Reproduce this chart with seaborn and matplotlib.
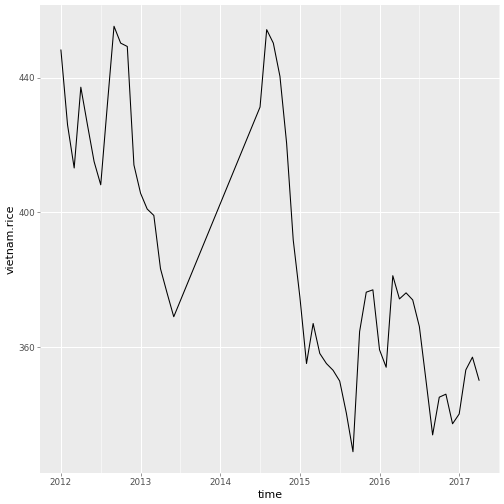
import numpy as np
import pandas as pd
import matplotlib
matplotlib.use("Agg")
import matplotlib.pyplot as plt
from matplotlib.ticker import MultipleLocator, FixedLocator
import seaborn as sns

# serie mensual del precio del arroz (vietnam.rice), con un hueco entre 2013-07 y 2014-06
inicio_a = 2012.0   # enero 2012
precio_a = [448.3, 426.0, 413.2, 437.2, 426.0, 415.1, 408.2, 432.0, 455.3, 450.3,
            449.3, 414.1, 405.7, 401.0, 399.1, 383.3, 376.0, 369.0]

inicio_b = 2014.5   # julio 2014
precio_b = [431.3, 454.3, 450.3, 440.4, 420.6, 391.8,
            374.9, 355.1, 367.0, 358.1, 355.1, 353.1, 349.9, 340.4, 328.9, 364.6, 376.3, 377.0,
            359.2, 354.0, 381.2, 374.3, 376.1, 374.0, 366.1, 350.1, 333.9, 345.1, 346.0, 337.2,
            340.1, 353.2, 357.0, 350.1]

tiempo = np.concatenate([inicio_a + np.arange(len(precio_a)) / 12,
                         inicio_b + np.arange(len(precio_b)) / 12])
df = pd.DataFrame({"time": tiempo, "vietnam.rice": precio_a + precio_b})

sns.set_theme(style="darkgrid", rc={
    "axes.facecolor": "#EBEBEB",
    "grid.color": "white",
    "axes.edgecolor": "#EBEBEB",
    "xtick.color": "#333333",
    "ytick.color": "#333333",
    "xtick.labelcolor": "#4D4D4D",
    "ytick.labelcolor": "#4D4D4D",
    "xtick.bottom": True,
    "ytick.left": True,
    "xtick.major.size": 2.75,
    "ytick.major.size": 2.75,
    "xtick.major.width": 0.5,
    "ytick.major.width": 0.5,
    "xtick.major.pad": 2.2,
    "ytick.major.pad": 2.2,
})
plt.rcParams["font.family"] = ["DejaVu Sans"]

fig = plt.figure(figsize=(7, 7), dpi=72)
ax = fig.add_axes([40 / 504, 1 - 473 / 504, 460 / 504, 468 / 504])

sns.lineplot(data=df, x="time", y="vietnam.rice", estimator=None, sort=False,
             color="black", linewidth=1.05, ax=ax)

# limites con expansion 5% como ggplot
xr = df["time"].max() - df["time"].min()
ax.set_xlim(df["time"].min() - 0.05 * xr, df["time"].max() + 0.05 * xr)
yr = df["vietnam.rice"].max() - df["vietnam.rice"].min()
ax.set_ylim(df["vietnam.rice"].min() - 0.05 * yr, df["vietnam.rice"].max() + 0.05 * yr)

ax.xaxis.set_major_locator(MultipleLocator(1))
ax.xaxis.set_minor_locator(FixedLocator(np.arange(2011.5, 2018, 1)))
ax.yaxis.set_major_locator(MultipleLocator(40))
ax.yaxis.set_minor_locator(FixedLocator(np.arange(300, 480, 40) + 20))
ax.xaxis.set_major_formatter(plt.FuncFormatter(lambda v, p: f"{int(v)}"))
ax.grid(which="major", color="white", linewidth=1.07)
ax.grid(which="minor", color="white", linewidth=0.53)
ax.tick_params(which="minor", length=0)
ax.tick_params(axis="both", which="major", labelsize=8.8)

for s in ax.spines.values():
    s.set_visible(False)

ax.set_xlabel("time", fontsize=11, color="black", labelpad=3)
ax.set_ylabel("vietnam.rice", fontsize=11, color="black", labelpad=3)

fig.savefig("out.png", dpi=72)
